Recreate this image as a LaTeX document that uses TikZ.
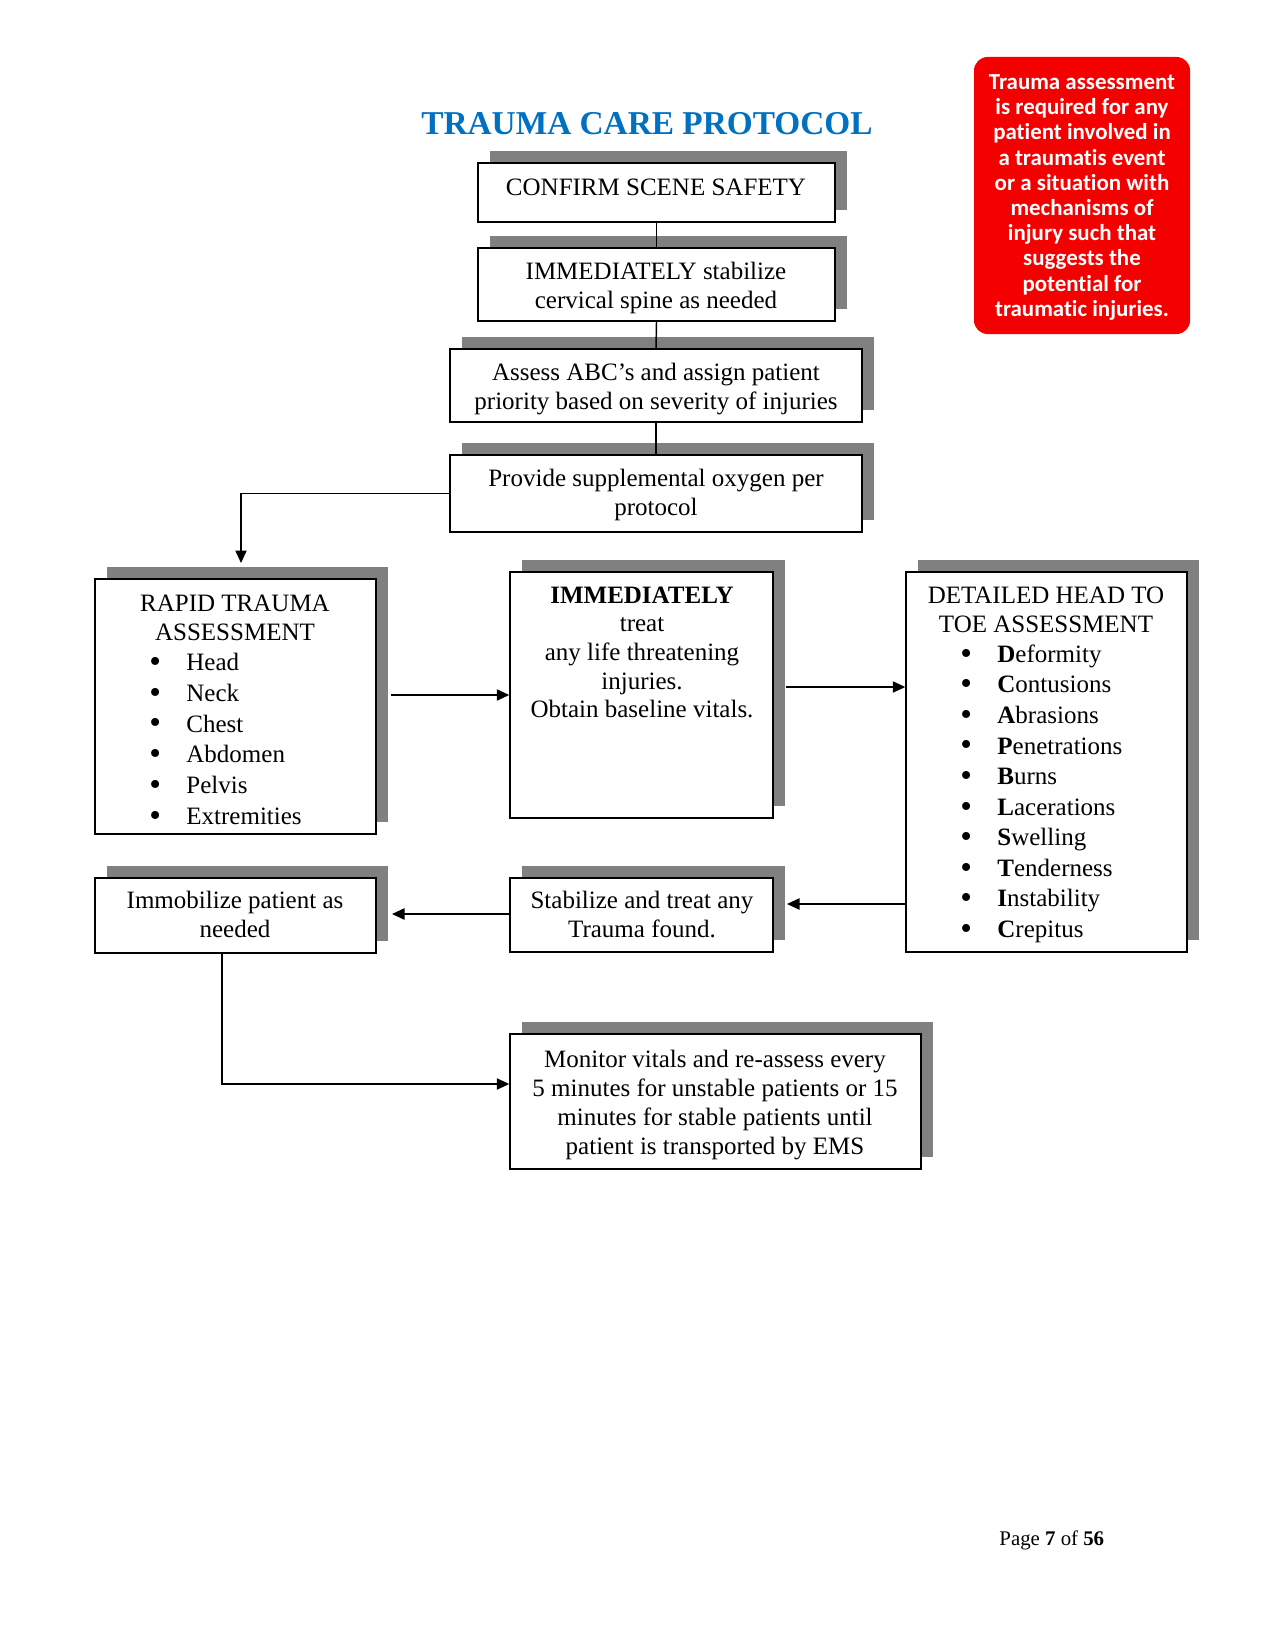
\documentclass[tikz,border=0pt]{standalone}
\usepackage{fontspec}
\setmainfont{Liberation Serif}
\newfontfamily\calfont[RawFeature={-liga;-clig;-dlig}]{Carlito}
\usetikzlibrary{fit,shadows,arrows.meta}
\definecolor{titleblue}{RGB}{0,112,192}
\definecolor{shadowgray}{RGB}{128,128,128}
\definecolor{alertred}{RGB}{245,0,0}
\newcommand{\bul}{\makebox[17.76pt][l]{\raisebox{-0.9pt}{\fontsize{16}{14}\selectfont •}}}
\begin{document}
\begin{tikzpicture}[x=0.48pt,y=-0.48pt,
  box/.style={draw, line width=0.7pt, fill=white, inner sep=0pt,
    drop shadow={shadow xshift=5.76pt, shadow yshift=5.76pt, fill=shadowgray, opacity=1}},
  txt/.style={anchor=north, inner sep=0pt, align=center, font=\fontsize{12}{#1}\selectfont, yshift={0.7*#1pt}},
  lst/.style={anchor=north west, inner sep=0pt, align=left, font=\fontsize{12}{#1}\selectfont, yshift={0.7*#1pt}},
  conn/.style={line width=0.7pt},
  arr/.style={conn, -{Triangle[length=6pt,width=5.4pt]}}]
\fill[white] (0,0) rectangle (1275,1651);
\useasboundingbox (0,0) rectangle (1275,1651);

% title
\node[anchor=base, inner sep=0pt, font=\fontsize{16}{19}\selectfont\bfseries, text=titleblue] (title) at (647,135) {TRAUMA CARE PROTOCOL};

% red note
\node[fill=alertred, rounded corners=6.5pt, inner sep=0pt, fit={(974,57) (1190,334)}] (note) {};
\node[anchor=north, inner sep=0pt, align=center, text=white, font=\calfont\bfseries\fontsize{11}{12.1}\selectfont, yshift=8.47pt] (notetext) at (1082,89)
  {\strut Trauma assessment\\is required for any\\patient involved in\\a traumatis event\\or a situation with\\mechanisms of\\injury such that\\suggests the\\potential for\\traumatic injuries.};

% boxes
\node[box, fit={(478,163) (835,222)}] (confirm) {};
\node[box, fit={(478,248) (835,321)}] (stabilize) {};
\node[box, fit={(450,349) (862,422)}] (abc) {};
\node[box, fit={(450,455) (862,532)}] (oxygen) {};
\node[box, fit={(95,579) (376,834)}] (rapid) {};
\node[box, fit={(510,572) (773,818)}] (treat) {};
\node[box, fit={(906,572) (1187,952)}] (detail) {};
\node[box, fit={(95,878) (376,953)}] (immob) {};
\node[box, fit={(510,878) (773,952)}] (stabtr) {};
\node[box, fit={(510,1034) (921,1169)}] (monitor) {};

% texts
\node[txt=13.9] (tconfirm) at (656,195) {\strut CONFIRM SCENE SAFETY};
\node[txt=13.9] (tstabilize) at (656,279) {\strut IMMEDIATELY stabilize\\cervical spine as needed};
\node[txt=13.9] (tabc) at (656,380) {\strut Assess ABC’s and assign patient\\priority based on severity of injuries};
\node[txt=13.9] (toxygen) at (656,486) {\strut Provide supplemental oxygen per\\protocol};
\node[txt=13.9] (trapid) at (235,611) {\strut RAPID TRAUMA\\ASSESSMENT};
\node[lst=14.8] (lrapid) at (149,670) {\strut\bul Head\\\bul Neck\\\bul Chest\\\bul Abdomen\\\bul Pelvis\\\bul Extremities};
\node[txt=13.7] (ttreat) at (642,603) {\strut\textbf{IMMEDIATELY}\\treat\\any life threatening\\injuries.\\Obtain baseline vitals.};
\node[txt=13.9] (tdetail) at (1046,603) {\strut DETAILED HEAD TO\\TOE ASSESSMENT};
\node[lst=14.67] (ldetail) at (960,662) {\strut\bul\textbf{D}eformity\\\bul\textbf{C}ontusions\\\bul\textbf{A}brasions\\\bul\textbf{P}enetrations\\\bul\textbf{B}urns\\\bul\textbf{L}acerations\\\bul\textbf{S}welling\\\bul\textbf{T}enderness\\\bul\textbf{I}nstability\\\bul\textbf{C}repitus};
\node[txt=13.9] (timmob) at (235,908) {\strut Immobilize patient as\\needed};
\node[txt=13.9] (tstabtr) at (642,908) {\strut Stabilize and treat any\\Trauma found.};
\node[txt=13.9] (tmonitor) at (715,1067) {\strut Monitor vitals and re-assess every\\5 minutes for unstable patients or 15\\minutes for stable patients until\\patient is transported by EMS};

% page label
\node[anchor=base west, inner sep=0pt, font=\fontsize{10}{12}\selectfont] (page) at (999,1545) {Page \textbf{7} of \textbf{56}};

% connectors
\draw[conn] (confirm.south) -- (stabilize.north);
\draw[conn] (stabilize.south) -- (abc.north);
\draw[conn] (abc.south) -- (oxygen.north);
\coordinate (c1) at (241,563);
\draw[arr] (oxygen.west) -| (c1);
\coordinate (c2) at (391,695);
\draw[arr] (c2) -- (c2 -| treat.west);
\coordinate (c3) at (786,687);
\draw[arr] (c3) -- (c3 -| detail.west);
\coordinate (c4) at (787,904);
\draw[arr] (c4 -| detail.west) -- (c4);
\coordinate (c5) at (392,914);
\draw[arr] (c5 -| stabtr.west) -- (c5);
\coordinate (c6) at (222,1084);
\draw[arr] (c6 |- immob.south) -- (c6) -- (c6 -| monitor.west);
\end{tikzpicture}
\end{document}
